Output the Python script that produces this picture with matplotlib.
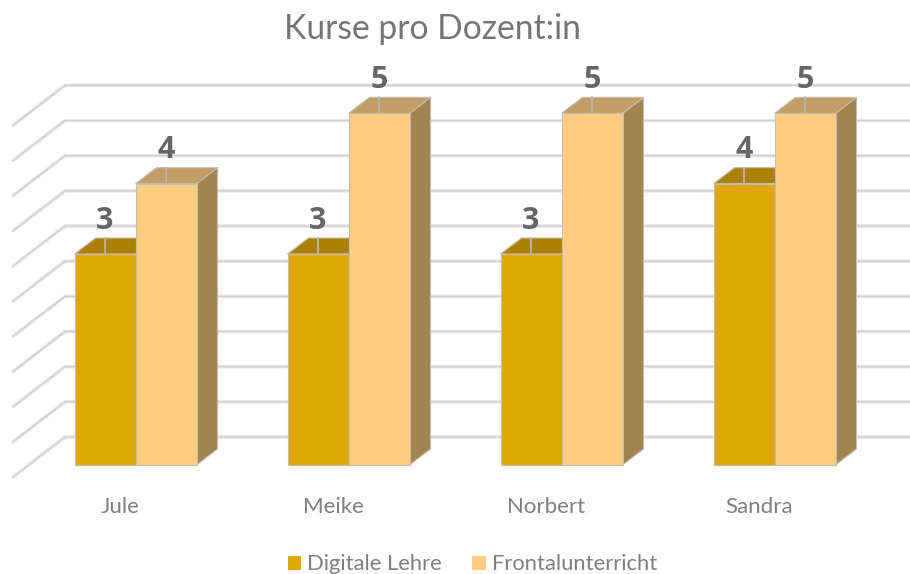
"""Kurse pro Dozent:in - fake 3D column chart, Excel style."""

import matplotlib
matplotlib.use("Agg")
import matplotlib.pyplot as plt
from matplotlib.patches import Patch, Polygon

plt.rcParams["font.family"] = ["Lato", "DejaVu Sans"]

TEACHERS = ["Jule", "Meike", "Norbert", "Sandra"]
DIGITAL = [3, 3, 3, 4]
FRONTAL = [4, 5, 5, 5]
GRID_VALUES = [0, 0.5, 1, 1.5, 2, 2.5, 3, 3.5, 4, 4.5, 5]

SERIES = [
    ("Digitale Lehre", DIGITAL, "#E0A807", "#AC8003", "#8F6C08"),
    ("Frontalunterricht", FRONTAL, "#FFCC80", "#C29D66", "#A38350"),
]

TEXT_GREY = "#7F7F7F"
LABEL_GREY = "#666666"
EDGE = "#C4BEB2"

# scale of the axes, in pixels per unit
PX_X = 213.0
PX_Y = 70.33
ORIGIN_X = 135.5
BAR_W = 61 / PX_X
# bar depth and wall depth (pixels)
BAR_DX, BAR_DY = 21 / PX_X, 16 / PX_Y
WALL_X = (65 - ORIGIN_X) / PX_X
WALL_Y = 28 / PX_Y
SIDE_DX, SIDE_DY = 52 / PX_X, 40 / PX_Y


def draw_column(ax, left, value, front, top, side, z):
    right = left + BAR_W
    ax.add_patch(Polygon([(right, 0), (right + BAR_DX, BAR_DY), (right + BAR_DX, value + BAR_DY), (right, value)],
                         facecolor=side, edgecolor=EDGE, lw=0.8, zorder=z))
    ax.add_patch(Polygon([(left, value), (left + BAR_DX, value + BAR_DY),
                          (right + BAR_DX, value + BAR_DY), (right, value)],
                         facecolor=top, edgecolor=EDGE, lw=0.8, zorder=z))
    ax.add_patch(Polygon([(left, 0), (right, 0), (right, value), (left, value)],
                         facecolor=front, edgecolor=EDGE, lw=0.8, zorder=z + 0.1))
    # small leader line of the data label
    mid = left + BAR_W / 2
    ax.plot([mid, mid], [value, value + BAR_DY], color="#B8B8B8", lw=1.2, zorder=z + 0.2)
    ax.text(mid, value + 33.5 / PX_Y, str(value), ha="center", va="center", family=["Open Sans", "DejaVu Sans"],
            fontsize=22, fontweight="bold", color=LABEL_GREY, zorder=z + 0.3)


fig = plt.figure(figsize=(9.10, 5.74), dpi=100)
ax = fig.add_axes([0, 0, 1, 1])
ax.set_xlim(-ORIGIN_X / PX_X, (910 - ORIGIN_X) / PX_X)
ax.set_ylim(-109 / PX_Y, 465 / PX_Y)
ax.axis("off")

# back wall and side wall grid
for v in GRID_VALUES:
    y = v + WALL_Y
    xs = [WALL_X - SIDE_DX, WALL_X, ax.get_xlim()[1]]
    ys = [y - SIDE_DY, y, y]
    ax.plot(xs, ys, color="#E8E8E8", lw=2.6, solid_capstyle="round", solid_joinstyle="miter", zorder=1)
    ax.plot(xs, ys, color="#CFCFCF", lw=0.9, solid_capstyle="round", solid_joinstyle="miter", zorder=1.1)

for i, name in enumerate(TEACHERS):
    for j, (_, values, front, top, side) in enumerate(SERIES):
        draw_column(ax, i - BAR_W + j * BAR_W, values[i], front, top, side, 2 + j)
    ax.text(i - 15 / PX_X, -42 / PX_Y, name, ha="center", va="center", fontsize=16, color=TEXT_GREY)

ax.text(297 / PX_X, 436 / PX_Y, "Kurse pro Dozent:in", ha="center", va="center", fontsize=24.2, color="#757575")

handles = [Patch(facecolor=s[2], edgecolor="none", label=s[0]) for s in SERIES]
ax.legend(handles=handles, loc="center", bbox_to_anchor=(472.5 / 910, 9.5 / 574), ncol=2, frameon=False,
          fontsize=15.8, labelcolor=TEXT_GREY, handlelength=0.63, handleheight=0.63,
          handletextpad=0.27, columnspacing=1.38, borderaxespad=0, borderpad=0)

fig.savefig("out.png", dpi=100)
plt.close(fig)
